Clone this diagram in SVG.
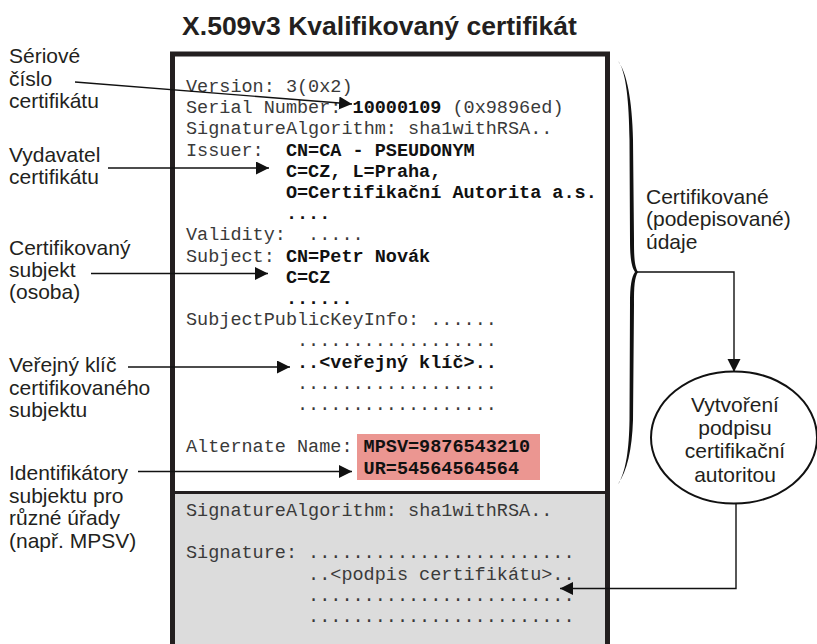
<svg xmlns="http://www.w3.org/2000/svg" width="817" height="644" viewBox="0 0 817 644">
<style>
.lbl{font-family:"Liberation Sans",Arial,sans-serif;font-size:21px;fill:#231f20}
.mono{font-family:"Liberation Mono","Courier New",monospace;font-size:18.5px;fill:#3a3a3a}
.b{font-weight:bold;fill:#111}
.conn{fill:none;stroke:#111;stroke-width:1.4}
.title{font-family:"Liberation Sans",Arial,sans-serif;font-size:26.5px;font-weight:bold;fill:#231f20}
</style>
<defs>
<marker id="ah" markerUnits="userSpaceOnUse" markerWidth="14" markerHeight="14" refX="13" refY="6.5" orient="auto">
<path d="M0,0 L13,6.5 L0,13 z" fill="#111"/>
</marker>
</defs>
<rect width="817" height="644" fill="#fff"/>
<text class="title" x="379.5" y="35" text-anchor="middle">X.509v3 Kvalifikovaný certifikát</text>

<g id="certificate">
<rect x="172.5" y="494" width="435" height="160" fill="#dcdcdc"/>
<line x1="172.5" y1="492.5" x2="607.5" y2="492.5" stroke="#231f20" stroke-width="3"/>
<rect x="357" y="434" width="183" height="46" fill="#eb9691"/>
<path d="M172.5,650 V54 H607.5 V650" fill="none" stroke="#231f20" stroke-width="5"/>
<g class="mono">
<text x="186" y="92">Version: 3(0x2)</text>
<text x="186" y="113.2">Serial Number: <tspan class="b">10000109</tspan> (0x9896ed)</text>
<text x="186" y="134.4">SignatureAlgorithm: sha1withRSA..</text>
<text x="186" y="155.6">Issuer:</text><text class="b" x="285.9" y="155.6">CN=CA - PSEUDONYM</text>
<text class="b" x="285.9" y="176.8">C=CZ, L=Praha,</text>
<text class="b" x="285.9" y="198">O=Certifikační Autorita a.s.</text>
<text class="b" x="285.9" y="219.2">....</text>
<text x="186" y="240.4">Validity:</text><text x="308.1" y="240.4">.....</text>
<text x="186" y="261.6">Subject:</text><text class="b" x="285.9" y="261.6">CN=Petr Novák</text>
<text class="b" x="285.9" y="282.8">C=CZ</text>
<text class="b" x="285.9" y="304">......</text>
<text x="186" y="325.2">SubjectPublicKeyInfo: ......</text>
<text x="297" y="346.4">..................</text>
<text class="b" x="297" y="367.6">..&lt;veřejný klíč&gt;..</text>
<text x="297" y="388.8">..................</text>
<text x="297" y="410">..................</text>
<text x="186" y="452.4">Alternate Name:</text>
<text class="b" x="363.6" y="452.4">MPSV=9876543210</text>
<text class="b" x="363.6" y="473.6">UR=54564564564</text>
<text x="186" y="516">SignatureAlgorithm: sha1withRSA..</text>
<text x="186" y="558.4">Signature:</text><text x="308.1" y="558.4">........................</text>
<text x="308.1" y="579.6">..&lt;podpis certifikátu&gt;..</text>
<text x="308.1" y="600.8">........................</text>
<text x="308.1" y="622">........................</text>
</g>
</g>

<g id="label-serial"><text class="lbl" x="9" y="63">Sériové</text><text class="lbl" x="9" y="85.5">číslo</text><text class="lbl" x="9" y="108">certifikátu</text></g>
<g id="label-issuer"><text class="lbl" x="9" y="161.5">Vydavatel</text><text class="lbl" x="9" y="184">certifikátu</text></g>
<g id="label-subject"><text class="lbl" x="9" y="255">Certifikovaný</text><text class="lbl" x="9" y="277">subjekt</text><text class="lbl" x="9" y="299">(osoba)</text></g>
<g id="label-key"><text class="lbl" x="9" y="372">Veřejný klíč</text><text class="lbl" x="9" y="394.5">certifikovaného</text><text class="lbl" x="9" y="417">subjektu</text></g>
<g id="label-ids"><text class="lbl" x="9" y="480">Identifikátory</text><text class="lbl" x="9" y="502.5">subjektu pro</text><text class="lbl" x="9" y="525">různé úřady</text><text class="lbl" x="9" y="547.5">(např. MPSV)</text></g>
<g id="label-signed"><text class="lbl" x="646" y="203.5">Certifikované</text><text class="lbl" x="646" y="226">(podepisované)</text><text class="lbl" x="646" y="248.5">údaje</text></g>

<g id="brace"><path d="M618,61 C627,73 632,100 633,140 L634,240 C634,258 634.5,266 638,272 C634.5,278 634,286 634,304 L633,420 C632,450 627,471 618,484 L619.5,482 C626,469 629,450 629.5,420 L630,304 C630,286 631.5,277 635,272 C631.5,267 630,258 630,240 L629.5,140 C629,100 626,75 619.5,63 Z" fill="#111"/></g>

<g id="signing">
<ellipse cx="734" cy="437.5" rx="83" ry="66" fill="#fff" stroke="#111" stroke-width="2"/>
<g class="lbl" text-anchor="middle">
<text x="735" y="411.5">Vytvoření</text>
<text x="735" y="435">podpisu</text>
<text x="735" y="458">certifikační</text>
<text x="735" y="481.5">autoritou</text>
</g>
</g>

<g id="connectors">
<line class="conn" x1="75" y1="82" x2="352" y2="104" marker-end="url(#ah)"/>
<line class="conn" x1="108" y1="168" x2="269" y2="168" marker-end="url(#ah)"/>
<line class="conn" x1="91" y1="273.5" x2="268" y2="273.5" marker-end="url(#ah)"/>
<line class="conn" x1="128" y1="367" x2="290" y2="367" marker-end="url(#ah)"/>
<line class="conn" x1="138" y1="471.5" x2="352" y2="471.5" marker-end="url(#ah)"/>
<path class="conn" d="M637,272 H734 V372" marker-end="url(#ah)"/>
<path class="conn" d="M736,503.5 V588.5 H560" marker-end="url(#ah)"/>
</g>
</svg>
